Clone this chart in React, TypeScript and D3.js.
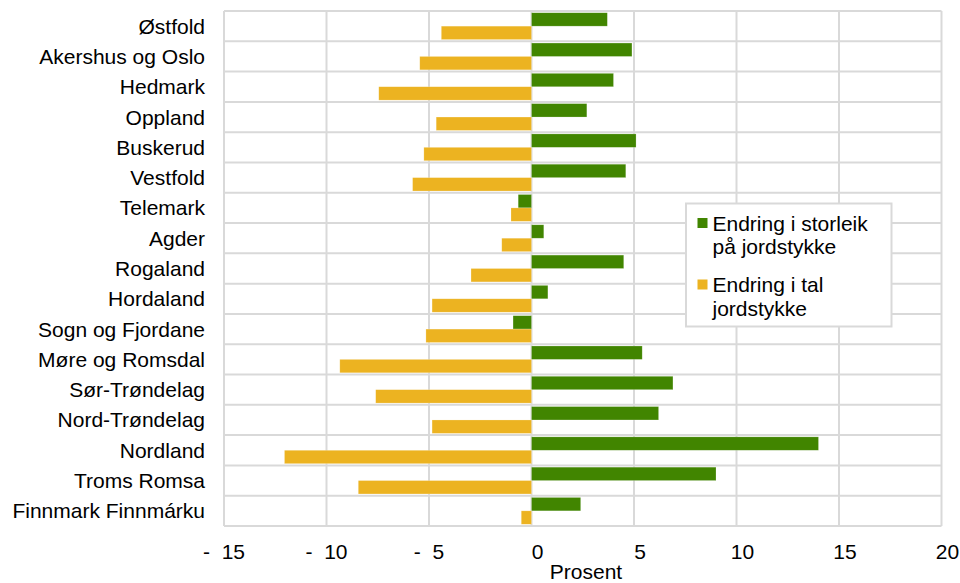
import React from "react";
import * as d3 from "d3";

const categories = [
  "Østfold",
  "Akershus og Oslo",
  "Hedmark",
  "Oppland",
  "Buskerud",
  "Vestfold",
  "Telemark",
  "Agder",
  "Rogaland",
  "Hordaland",
  "Sogn og Fjordane",
  "Møre og Romsdal",
  "Sør-Trøndelag",
  "Nord-Trøndelag",
  "Nordland",
  "Troms Romsa",
  "Finnmark Finnmárku",
];

const storleik = [3.7, 4.9, 4.0, 2.7, 5.1, 4.6, -0.65, 0.6, 4.5, 0.8, -0.9, 5.4, 6.9, 6.2, 14.0, 9.0, 2.4];
const tal = [-4.4, -5.45, -7.45, -4.65, -5.25, -5.8, -1.0, -1.45, -2.95, -4.85, -5.15, -9.35, -7.6, -4.85, -12.05, -8.45, -0.5];

const seriesNames = ["Endring i storleik på jordstykke", "Endring i tal jordstykke"];
const legendLines = [["Endring i storleik", "på jordstykke"], ["Endring i tal", "jordstykke"]];
const seriesColors = ["#418500", "#ECB321"];
const xTicks = [-15, -10, -5, 0, 5, 10, 15, 20];
const xTitle = "Prosent";

const W = 960;
const H = 583;
const FONT = "'Liberation Sans', Arial, Helvetica, sans-serif";
const FS = 21;

export default function App() {
  const left = 224;
  const right = 941.5;
  const top = 11;
  const bottom = 526;

  const x = d3.scaleLinear().domain([-15, 20]).range([left, right]);
  const y = d3.scaleBand<string>().domain(categories).range([top, bottom]).padding(0);
  const inner = d3
    .scaleBand<string>()
    .domain(seriesNames)
    .range([0, y.bandwidth()])
    .paddingInner(0)
    .paddingOuter(0.13);

  const series = [storleik, tal];
  const grid = "#d9d9d9";

  const fmtTick = (v: number) => (v < 0 ? "-\u00a0\u00a0" + Math.abs(v) : String(v));

  const legX = 686;
  const legY = 203.5;

  return (
    <svg
      width={W}
      height={H}
      style={{ position: "absolute", left: 0, top: 0, background: "#fff" }}
      fontFamily={FONT}
    >
      <rect x={0} y={0} width={W} height={H} fill="#fff" />
      {d3.range(categories.length + 1).map((i) => {
        const yy = top + i * y.step();
        return <line key={"h" + i} x1={left} x2={right} y1={yy} y2={yy} stroke={grid} strokeWidth={2} />;
      })}
      {xTicks.map((t) => (
        <line key={"v" + t} x1={x(t)} x2={x(t)} y1={top} y2={bottom} stroke={grid} strokeWidth={2} />
      ))}
      {series.map((vals, si) =>
        vals.map((v, i) => {
          const c = categories[i];
          const y0 = (y(c) as number) + (inner(seriesNames[si]) as number);
          const x0 = Math.min(x(0), x(v));
          const w = Math.abs(x(v) - x(0));
          return (
            <rect
              key={si + "-" + i}
              x={x0}
              y={y0}
              width={w}
              height={inner.bandwidth()}
              fill={seriesColors[si]}
              stroke="#ffffff"
              strokeOpacity={0.35}
              strokeWidth={0.6}
            />
          );
        })
      )}
      {categories.map((c) => (
        <text
          key={c}
          x={205}
          y={(y(c) as number) + y.bandwidth() / 2 + 7.5}
          textAnchor="end"
          fontSize={FS}
          fill="#000"
        >
          {c}
        </text>
      ))}
      {xTicks.map((t) => (
        <text
          key={"t" + t}
          x={x(t) + (t < 0 ? 0 : 6)}
          y={559}
          textAnchor="middle"
          fontSize={FS}
          fill="#000"
        >
          {fmtTick(t)}
        </text>
      ))}
      <text x={586} y={579} textAnchor="middle" fontSize={FS} fill="#000">
        {xTitle}
      </text>
      {legendLines.length > 0 && (
        <rect x={legX} y={legY} width={205.5} height={123} fill="#fff" stroke={grid} strokeWidth={2} />
      )}
      {legendLines.map((lines, si) => {
        const baseY = legY + 27 + si * 61.5;
        return (
          <g key={"leg" + si}>
            <rect x={697.5} y={baseY - 12.5} width={10} height={10} fill={seriesColors[si]} />
            {lines.map((ln, li) => (
              <text key={li} x={712.5} y={baseY + li * 23.8} fontSize={FS} fill="#000">
                {ln}
              </text>
            ))}
          </g>
        );
      })}
    </svg>
  );
}
